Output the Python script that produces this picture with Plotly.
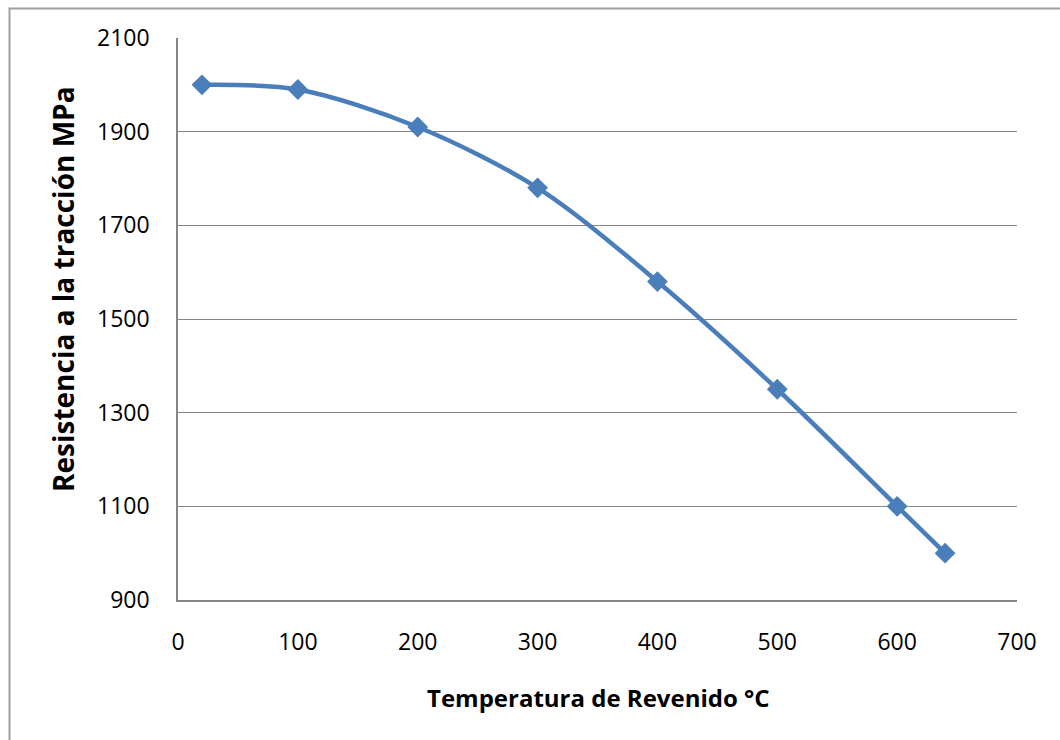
import plotly.graph_objects as go

# Tempering temperature (°C) vs. tensile strength (MPa)
temperatura = [20, 100, 200, 300, 400, 500, 600, 640]
resistencia = [2000, 1990, 1910, 1780, 1580, 1350, 1100, 1000]

x_ticks = [0, 100, 200, 300, 400, 500, 600, 700]
y_ticks = [900, 1100, 1300, 1500, 1700, 1900, 2100]

azul = "#4A7EBB"
gris = "#868686"
fuente = "Open Sans"

fig = go.Figure()
fig.add_trace(go.Scatter(
    x=temperatura, y=resistencia,
    mode="lines+markers",
    line=dict(color=azul, width=4.5, shape="spline", smoothing=0.9),
    marker=dict(symbol="diamond", size=16, color=azul),
    showlegend=False,
))

L, R, T, B = 178, 43, 38, 140
W, H = 1060, 740
pw, ph = W - L - R, H - T - B

fig.update_layout(
    width=W, height=H,
    margin=dict(l=L, r=R, t=T, b=B),
    paper_bgcolor="white", plot_bgcolor="white",
    font=dict(family=fuente, size=23, color="black"),
    xaxis=dict(
        range=[0, 700], tickvals=x_ticks, showgrid=False, zeroline=False,
        showline=True, linecolor=gris, linewidth=1.5, ticks="",
        ticklabelstandoff=21,
    ),
    yaxis=dict(
        range=[900, 2100], tickvals=y_ticks, showgrid=True, gridcolor=gris,
        gridwidth=1, zeroline=False, showline=True, linecolor=gris,
        linewidth=1.5, ticks="", ticklabelstandoff=22,
    ),
    annotations=[
        dict(text="<b>Temperatura de Revenido °C</b>", xref="paper", yref="paper",
             x=(598 - L) / pw, y=-(697 - (T + ph)) / ph, showarrow=False,
             font=dict(family=fuente, size=24), xanchor="center", yanchor="middle"),
        dict(text="<b>Resistencia a la tracción MPa</b>", xref="paper", yref="paper",
             x=-(L - 63) / pw, y=(T + ph - 289) / ph, showarrow=False, textangle=-90,
             font=dict(family=fuente, size=28), xanchor="center", yanchor="middle"),
    ],
    shapes=[
        dict(type="rect", xref="paper", yref="paper",
             x0=-(L - 9.5) / pw, x1=(W + 20 - L) / pw,
             y0=-(H + 20 - T - ph) / ph, y1=(T + ph - 8.5) / ph,
             line=dict(color="#A0A0A0", width=2), layer="below"),
    ],
)

fig.write_html("out.html")
